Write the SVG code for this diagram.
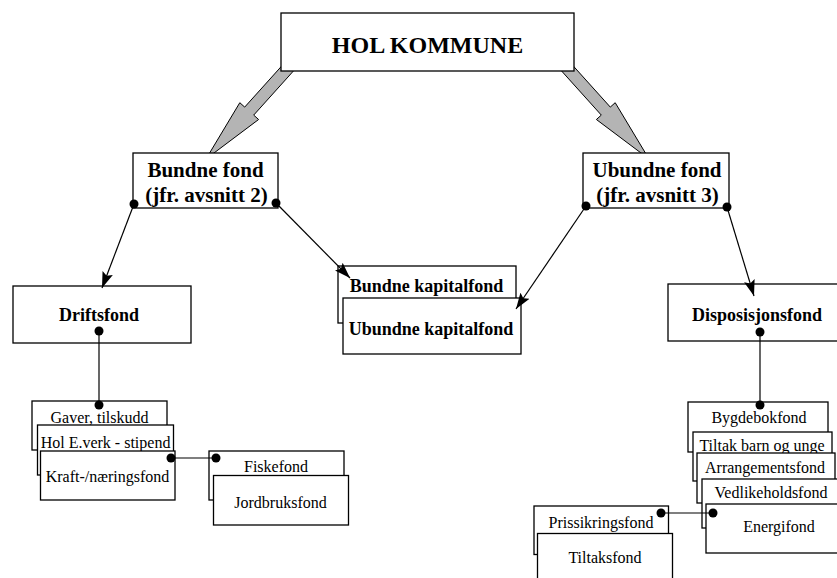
<svg xmlns="http://www.w3.org/2000/svg" width="837" height="578" viewBox="0 0 837 578">
<style>
  .box { fill: #fff; stroke: #000; stroke-width: 1.3; }
  .big { fill: #b4b4b4; stroke: #000; stroke-width: 1; stroke-linejoin: miter; }
  .t { font-family: "Liberation Serif", "Times New Roman", serif; fill: #000; text-anchor: middle; }
  .b { font-weight: bold; }
  .n16 { font-size: 16px; }
  .b18 { font-size: 18px; font-weight: bold; }
  .b21 { font-size: 21px; font-weight: bold; }
  .line { stroke: #000; stroke-width: 1.2; fill: none; }
  .dot { fill: #000; }
</style>
<defs>
  <marker id="ah" markerUnits="userSpaceOnUse" markerWidth="17" markerHeight="12" refX="16" refY="6" orient="auto">
    <path d="M0,0.5 L16,6 L0,11.5 L3,6 z" fill="#000"/>
  </marker>
</defs>
<rect width="837" height="578" fill="#fff"/>

<g id="block-arrows">
  <polygon class="big" points="288.9,58 244.7,107.1 239.8,102.7 206,159 258.6,119.5 253.7,115.1 297.9,66"/>
  <polygon class="big" points="566.1,58 610.3,107.1 615.2,102.7 649,159 596.4,119.5 601.3,115.1 557.1,66"/>
</g>

<g id="hol">
  <rect class="box" x="281" y="13" width="293" height="58"/>
  <text class="t b" x="427.5" y="53" font-size="24">HOL KOMMUNE</text>
</g>

<g id="bundne-fond">
  <rect class="box" x="133" y="153" width="145" height="55"/>
  <text class="t b21" x="205.5" y="177">Bundne fond</text>
  <text class="t b21" x="206.5" y="202">(jfr. avsnitt 2)</text>
</g>

<g id="ubundne-fond">
  <rect class="box" x="583" y="153" width="146" height="55"/>
  <text class="t b21" x="657" y="177">Ubundne fond</text>
  <text class="t b21" x="657.5" y="202">(jfr. avsnitt 3)</text>
</g>

<g id="driftsfond">
  <rect class="box" x="13" y="286" width="178" height="57"/>
  <text class="t b18" x="99" y="321">Driftsfond</text>
</g>

<g id="bundne-kapitalfond">
  <rect class="box" x="338" y="266" width="178" height="57"/>
  <text class="t b18" x="426.5" y="292">Bundne kapitalfond</text>
</g>

<g id="ubundne-kapitalfond">
  <rect class="box" x="343" y="298" width="178" height="56"/>
  <text class="t b18" x="431" y="335">Ubundne kapitalfond</text>
</g>

<g id="disposisjonsfond">
  <rect class="box" x="668" y="284" width="175" height="57"/>
  <text class="t b18" x="757" y="321">Disposisjonsfond</text>
</g>

<g id="gaver">
  <rect class="box" x="32" y="401" width="135" height="49"/>
  <text class="t n16" x="99.5" y="423">Gaver, tilskudd</text>
</g>
<g id="hol-everk">
  <rect class="box" x="37.5" y="425" width="136" height="50"/>
  <text class="t n16" x="105.5" y="448">Hol E.verk - stipend</text>
</g>
<g id="kraft">
  <rect class="box" x="40.5" y="451" width="134.5" height="49"/>
  <text class="t n16" x="107.5" y="482">Kraft-/næringsfond</text>
</g>
<g id="fiskefond">
  <rect class="box" x="209" y="451" width="135" height="49"/>
  <text class="t n16" x="276" y="472">Fiskefond</text>
</g>
<g id="jordbruksfond">
  <rect class="box" x="213.5" y="475.5" width="135" height="49.5"/>
  <text class="t n16" x="280.5" y="508">Jordbruksfond</text>
</g>

<g id="bygdebokfond">
  <rect class="box" x="688" y="402" width="140" height="50"/>
  <text class="t n16" x="759" y="423">Bygdebokfond</text>
</g>
<g id="tiltak-barn">
  <rect class="box" x="693" y="432" width="139" height="49"/>
  <text class="t n16" x="762" y="450.5">Tiltak barn og unge</text>
</g>
<g id="arrangementsfond">
  <rect class="box" x="697" y="453" width="138" height="50"/>
  <text class="t n16" x="765" y="472.5">Arrangementsfond</text>
</g>
<g id="vedlikeholdsfond">
  <rect class="box" x="702" y="479" width="140" height="49"/>
  <text class="t n16" x="771" y="498">Vedlikeholdsfond</text>
</g>
<g id="energifond">
  <rect class="box" x="706" y="504" width="135" height="49"/>
  <text class="t n16" x="779" y="531.5">Energifond</text>
</g>
<g id="prissikringsfond">
  <rect class="box" x="534" y="506" width="134.5" height="48.5"/>
  <text class="t n16" x="601" y="528">Prissikringsfond</text>
</g>
<g id="tiltaksfond">
  <rect class="box" x="537.5" y="533.5" width="135" height="50"/>
  <text class="t n16" x="605" y="562.5">Tiltaksfond</text>
</g>

<g id="connectors">
  <line class="line" x1="134" y1="204" x2="102" y2="288" marker-end="url(#ah)"/>
  <line class="line" x1="276" y1="203" x2="350" y2="278" marker-end="url(#ah)"/>
  <line class="line" x1="586" y1="206" x2="516" y2="309" marker-end="url(#ah)"/>
  <line class="line" x1="727" y1="207" x2="754" y2="296" marker-end="url(#ah)"/>
  <line class="line" x1="99" y1="331" x2="99" y2="405"/>
  <line class="line" x1="171" y1="458" x2="216" y2="458"/>
  <line class="line" x1="760" y1="332" x2="760" y2="405"/>
  <line class="line" x1="661" y1="513" x2="713" y2="513"/>
  <circle class="dot" cx="134" cy="204" r="4.5"/>
  <circle class="dot" cx="276" cy="203" r="4.5"/>
  <circle class="dot" cx="586" cy="206" r="4.5"/>
  <circle class="dot" cx="727" cy="207" r="4.5"/>
  <circle class="dot" cx="99" cy="331" r="4.5"/>
  <circle class="dot" cx="99" cy="405" r="4.5"/>
  <circle class="dot" cx="171" cy="458" r="4.5"/>
  <circle class="dot" cx="216" cy="458" r="4.5"/>
  <circle class="dot" cx="760" cy="332" r="4.5"/>
  <circle class="dot" cx="760" cy="405" r="4.5"/>
  <circle class="dot" cx="661" cy="513" r="4.5"/>
  <circle class="dot" cx="713" cy="513" r="4.5"/>
</g>
</svg>
